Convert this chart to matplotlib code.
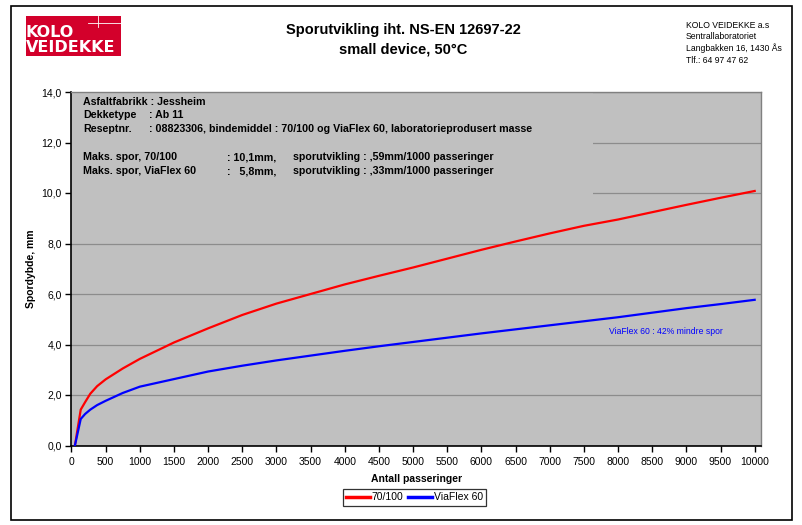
"""
Sporutvikling (wheel tracking) chart, small device at 50 C.
"""

import matplotlib
matplotlib.use("Agg")
import matplotlib.pyplot as plt
from matplotlib.patches import Rectangle
from matplotlib.lines import Line2D
from matplotlib.ticker import FuncFormatter, MultipleLocator

plt.rcParams["font.family"] = ["Liberation Sans", "DejaVu Sans"]

W, H = 803, 525

# passes and rut depth (mm)
passes = [50, 135, 200, 275, 375, 500, 750, 1000, 1500, 2000, 2500, 3000, 3500, 4000,
          4500, 5000, 5500, 6000, 6500, 7000, 7500, 8000, 8500, 9000, 9500, 10000]
rut_70_100 = [0.0, 1.42, 1.72, 2.05, 2.35, 2.62, 3.05, 3.43, 4.08, 4.64, 5.17, 5.62,
              6.0, 6.38, 6.72, 7.05, 7.4, 7.75, 8.08, 8.4, 8.7, 8.95, 9.24, 9.53,
              9.81, 10.08]
rut_viaflex = [0.0, 1.05, 1.25, 1.42, 1.6, 1.77, 2.08, 2.33, 2.63, 2.93, 3.16, 3.37,
               3.56, 3.75, 3.93, 4.1, 4.27, 4.44, 4.6, 4.76, 4.92, 5.08, 5.26, 5.44,
               5.6, 5.77]

series_labels = ["70/100", "ViaFlex 60"]
series_colors = ["#ff0000", "#0000ff"]

info_lines = [
    ("Asfaltfabrikk : Jessheim", None, None),
    ("Dekketype", ": Ab 11", None),
    ("Reseptnr.", ": 08823306, bindemiddel : 70/100 og ViaFlex 60, laboratorieprodusert masse", None),
    ("Maks. spor, 70/100", ": 10,1mm,", "sporutvikling : ,59mm/1000 passeringer"),
    ("Maks. spor, ViaFlex 60", ":   5,8mm,", "sporutvikling : ,33mm/1000 passeringer"),
]
address = ["KOLO VEIDEKKE a.s", "Sentrallaboratoriet",
           "Langbakken 16, 1430 \u00c5s", "Tlf.: 64 97 47 62"]


def px(x, y):
    return x / W, 1 - y / H


fig = plt.figure(figsize=(W / 100, H / 100), dpi=100)

# outer frame
fig.patches.append(Rectangle(px(11, 520), 781 / W, 514 / H, transform=fig.transFigure,
                             fill=False, edgecolor="black", linewidth=1.2))

# logo
fig.patches.append(Rectangle(px(26, 56), 95 / W, 40 / H, transform=fig.transFigure,
                             facecolor="#d3002b", edgecolor="none"))
fig.lines.append(Line2D([88 / W, 121 / W], [1 - 22.7 / H, 1 - 22.7 / H],
                        transform=fig.transFigure, color="white", linewidth=0.6))
fig.lines.append(Line2D([97.7 / W, 97.7 / W], [1 - 16 / H, 1 - 26.7 / H],
                        transform=fig.transFigure, color="white", linewidth=0.6))
fig.text(*px(25.5, 32.2), "KOLO", color="white", fontsize=11.5, fontweight="bold",
         family="DejaVu Sans", va="center", ha="left")
fig.text(*px(25.5, 47.2), "VEIDEKKE", color="white", fontsize=11.5, fontweight="bold",
         family="DejaVu Sans", va="center", ha="left")

# title
fig.text(*px(403, 30), "Sporutvikling iht. NS-EN 12697-22", fontsize=10.5,
         fontweight="bold", ha="center", va="center")
fig.text(*px(403, 49), "small device, 50\u00b0C", fontsize=10.5,
         fontweight="bold", ha="center", va="center")

for i, line in enumerate(address):
    fig.text(*px(686, 25 + i * 11.7), line, fontsize=6.2, ha="left", va="center")

ax = fig.add_axes([71.5 / W, 1 - 445.5 / H, 690 / W, 353.5 / H])
ax.set_facecolor("#c0c0c0")

for xs, ys, lab, col in zip([passes, passes], [rut_70_100, rut_viaflex],
                            series_labels, series_colors):
    ax.plot(xs, ys, color=col, linewidth=1.6, label=lab, zorder=4)

ax.set_xlim(0, 10100)
ax.set_ylim(0, 14)
ax.xaxis.set_major_locator(MultipleLocator(500))
ax.yaxis.set_major_locator(MultipleLocator(2))
ax.yaxis.set_major_formatter(FuncFormatter(lambda v, p: f"{v:.1f}".replace(".", ",")))
ax.tick_params(axis="both", direction="out", length=4, width=1, labelsize=7.5, pad=3)
ax.tick_params(axis="x", pad=4.5)
ax.grid(axis="y", color="#8c8c8c", linewidth=0.9, zorder=1)
ax.set_axisbelow(True)
for side in ["left", "bottom"]:
    ax.spines[side].set_color("black")
    ax.spines[side].set_linewidth(1.2)
for side in ["top", "right"]:
    ax.spines[side].set_color("#808080")
    ax.spines[side].set_linewidth(1)

ax.set_xlabel("Antall passeringer", fontsize=7.5, fontweight="bold", labelpad=5)
ax.set_ylabel("Spordybde, mm", fontsize=7.5, fontweight="bold", labelpad=4)

# info box hiding the grid behind it
ax.add_patch(Rectangle((0, 9.55), 7640, 4.45, facecolor="#c0c0c0",
                       edgecolor="none", zorder=2))

row_y = [102, 115, 129, 157, 171]
for (a, b, c), y in zip(info_lines, row_y):
    fig.text(*px(83, y), a, fontsize=7.7, fontweight="bold", va="center")
    if b is not None:
        bx = 149 if c is None else 227
        fig.text(*px(bx, y), b, fontsize=7.7, fontweight="bold", va="center")
    if c is not None:
        fig.text(*px(293, y), c, fontsize=7.7, fontweight="bold", va="center")

fig.text(*px(609, 332), "ViaFlex 60 : 42% mindre spor", fontsize=6.2,
         color="#0000ff", va="center")

leg = fig.legend(loc="center", bbox_to_anchor=px(414.5, 497.5), ncol=2, fontsize=7.5,
                 frameon=True, fancybox=False, edgecolor="black", handlelength=2.3,
                 handletextpad=0.15, columnspacing=0.5, borderpad=0.3, borderaxespad=0)
leg.get_frame().set_linewidth(0.9)
for lh in leg.get_lines():
    lh.set_linewidth(2.5)

fig.savefig("out.png", dpi=100)
